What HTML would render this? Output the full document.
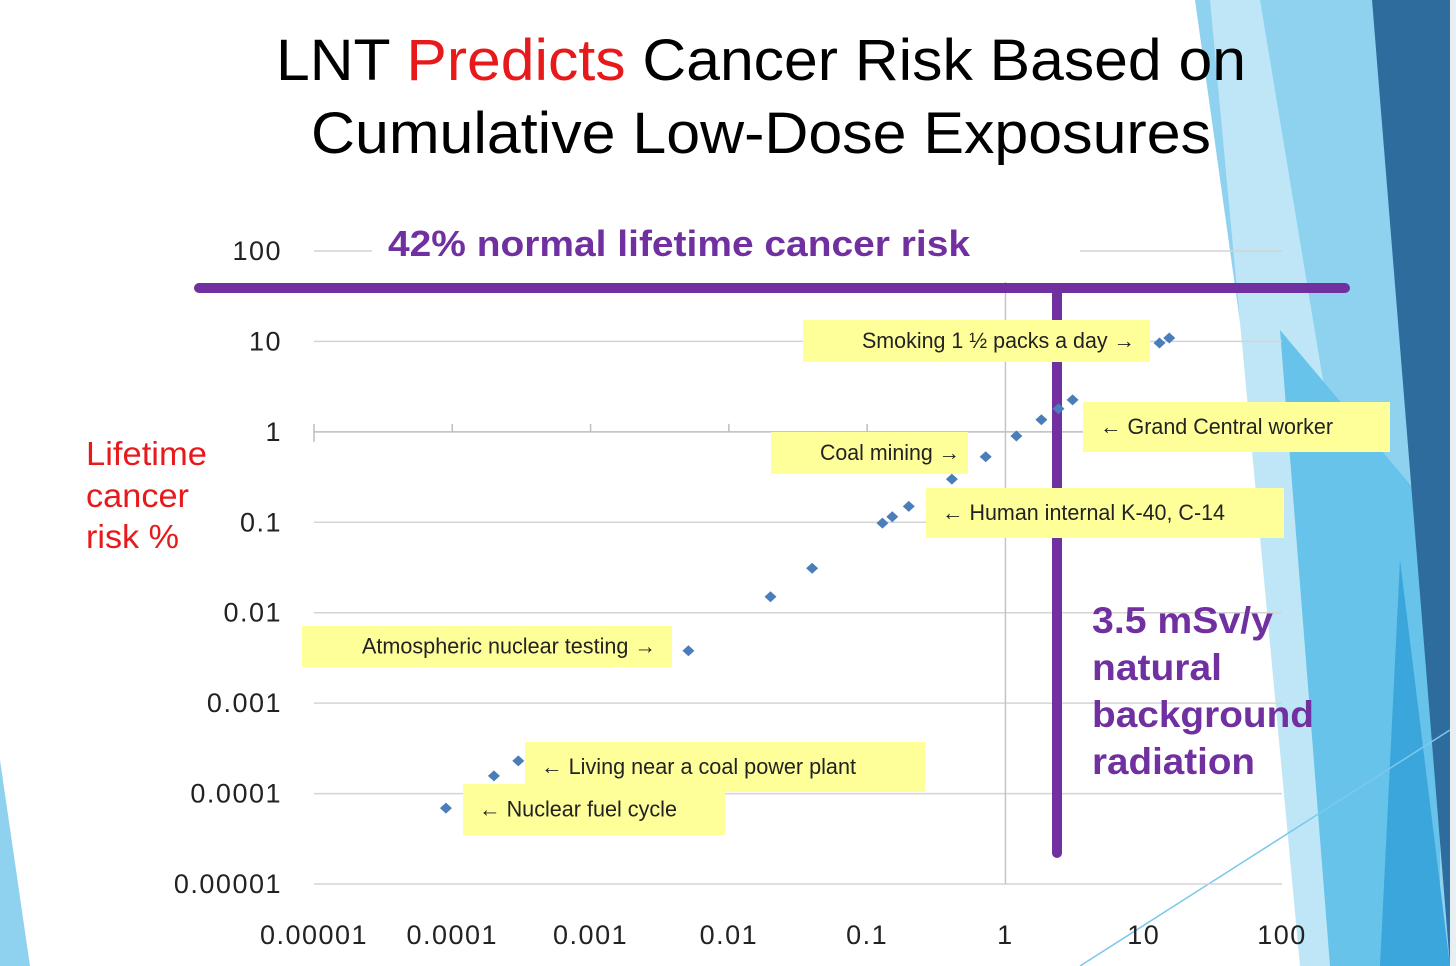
<!DOCTYPE html>
<html><head><meta charset="utf-8">
<style>
html,body{margin:0;padding:0;background:#fff;}
body{width:1456px;height:966px;overflow:hidden;position:relative;font-family:"Liberation Sans",Arial,sans-serif;}
svg{position:absolute;left:0;top:0;}
</style></head>
<body>
<svg id="chart" width="1456" height="966" font-family="Liberation Sans, Arial, sans-serif">
  <g>
    <polygon points="1195,0 1372,0 1456,966 1330,966" fill="#8fd2f0"/>
    <polygon points="1210,0 1260,0 1420,966 1300,966" fill="#bfe6f7"/>
    <polygon points="1280,330 1440,520 1440,966 1330,966" fill="#67c3ea"/>
    <polygon points="1372,0 1450,0 1450,966" fill="#2f6c9e"/>
    <polygon points="1400,560 1450,966 1380,966" fill="#3aa6dc"/>
    <rect x="1450" y="0" width="6" height="966" fill="#e8eef2"/>
    <polygon points="0,760 30,966 0,966" fill="#8fd2f0"/>
    <line x1="1080" y1="966" x2="1450" y2="730" stroke="#7cc8ec" stroke-width="1.5"/>
  </g>
  <g font-size="58" fill="#000">
    <text x="276" y="80" textLength="970" lengthAdjust="spacingAndGlyphs">LNT <tspan fill="#e8191b">Predicts</tspan> Cancer Risk Based on</text>
    <text x="311" y="153" textLength="900" lengthAdjust="spacingAndGlyphs">Cumulative Low-Dose Exposures</text>
  </g>
  <g id="grid"></g>
  <g id="ylabels" font-size="27" fill="#222" text-anchor="end" letter-spacing="1.5"></g>
  <g id="xlabels" font-size="27" fill="#222" text-anchor="middle" letter-spacing="1.5"></g>
  <g font-size="33" fill="#e8191b">
    <text x="86" y="465" textLength="121" lengthAdjust="spacingAndGlyphs">Lifetime</text>
    <text x="86" y="507" textLength="103" lengthAdjust="spacingAndGlyphs">cancer</text>
    <text x="86" y="548" textLength="93" lengthAdjust="spacingAndGlyphs">risk %</text>
  </g>
  <rect x="194" y="283" width="1156" height="10" rx="5" fill="#7030a0"/>
  <text x="388" y="256" font-size="36" font-weight="bold" fill="#7030a0" textLength="582" lengthAdjust="spacingAndGlyphs">42% normal lifetime cancer risk</text>
  <rect x="1052" y="288" width="10" height="570" rx="5" fill="#7030a0"/>
  <g font-size="37" font-weight="bold" fill="#7030a0">
    <text x="1092" y="633" textLength="181" lengthAdjust="spacingAndGlyphs">3.5 mSv/y</text>
    <text x="1092" y="680" textLength="130" lengthAdjust="spacingAndGlyphs">natural</text>
    <text x="1092" y="727" textLength="222" lengthAdjust="spacingAndGlyphs">background</text>
    <text x="1092" y="774" textLength="163" lengthAdjust="spacingAndGlyphs">radiation</text>
  </g>
  <g id="callouts" font-size="22" fill="#222"></g>
  <g id="points"></g>
</svg>
<script>
const xTicks = [0.00001,0.0001,0.001,0.01,0.1,1,10,100];
const xTickLabels = ["0.00001","0.0001","0.001","0.01","0.1","1","10","100"];
const yTicks = [100,10,1,0.1,0.01,0.001,0.0001,0.00001];
const yTickLabels = ["100","10","1","0.1","0.01","0.001","0.0001","0.00001"];
const doseValues = [0.00009,0.0002,0.0003,0.0051,0.02,0.04,0.129,0.152,0.2,0.41,0.72,1.2,1.82,2.42,3.06,13.0,15.3];
const riskValues = [0.000069,0.000157,0.00023,0.0038,0.015,0.031,0.098,0.115,0.15,0.30,0.53,0.9,1.36,1.8,2.26,9.6,10.9];
const calloutTexts = ["Smoking 1 \u00bd packs a day \u2192","\u2190 Grand Central worker","Coal mining \u2192","\u2190 Human internal K-40, C-14","Atmospheric nuclear testing \u2192","\u2190 Living near a coal power plant","\u2190 Nuclear fuel cycle"];

const NS="http://www.w3.org/2000/svg";
const X0=314,X1=1282,Y0=884,Y1=251;
function xs(v){return X0+(Math.log10(v)+5)/7*(X1-X0);}
function ys(v){return Y0-(Math.log10(v)+5)/7*(Y0-Y1);}
function mk(t,a,p){const e=document.createElementNS(NS,t);for(const k in a)e.setAttribute(k,a[k]);p.appendChild(e);return e;}

const grid=document.getElementById('grid');
yTicks.forEach((v,i)=>{
  const y=ys(v);
  if(v===100){
    let l=mk('line',{x1:X0,x2:372,y1:y,y2:y,stroke:'#d4d4d4','stroke-width':1.5},grid);
    
    
    let r=mk('line',{x1:1080,x2:X1,y1:y,y2:y,stroke:'#d4d4d4','stroke-width':1.5},grid);
    
    
  } else {
    let l=mk('line',{x1:X0,x2:X1,y1:y,y2:y,stroke:v===1?'#bdbdbd':'#d4d4d4','stroke-width':1.5},grid);
    
    
  }
  const t=mk('text',{x:282,y:y+9},document.getElementById('ylabels'));
  t.textContent=yTickLabels[i];
  
  
});
const vx=xs(1);
let va=mk('line',{x1:vx,x2:vx,y1:282,y2:Y0,stroke:'#c4c4c4','stroke-width':1.5},grid);


let ya=mk('line',{x1:X0,x2:X0,y1:ys(1),y2:ys(1)+10,stroke:'#bdbdbd','stroke-width':1.5},grid);


xTicks.forEach((v,i)=>{
  const x=xs(v);
  if(v<1){
    let tk=mk('line',{x1:x,x2:x,y1:ys(1)-8,y2:ys(1),stroke:'#bdbdbd','stroke-width':1.5},grid);
    
    
  }
  const t=mk('text',{x:x,y:944},document.getElementById('xlabels'));
  t.textContent=xTickLabels[i];
  
  
});

const boxes=[[803,320,347,42,862,273],[1083,402,307,50,1100,233],[771,432,197,42,820,140],[926,488,358,50,942,283],[302,626,370,41,362,294],[525,742,400,50,541,315],[463,784,262,51,479,198]];
const cg=document.getElementById('callouts');
boxes.forEach((b,i)=>{
  const r=mk('rect',{x:b[0],y:b[1],width:b[2],height:b[3],fill:'#ffff99'},cg);
  
  
  const t=mk('text',{x:b[4],y:b[1]+b[3]/2+7,textLength:b[5],lengthAdjust:'spacingAndGlyphs'},cg);
  t.textContent=calloutTexts[i];
  
  
});

const pg=document.getElementById('points');
doseValues.forEach((d,i)=>{
  const x=xs(d),y=ys(riskValues[i]);
  const p=mk('polygon',{points:`${x},${y-5.5} ${x+6},${y} ${x},${y+5.5} ${x-6},${y}`,fill:'#4a7ebb'},pg);
  
  
});
</script>
</body></html>
